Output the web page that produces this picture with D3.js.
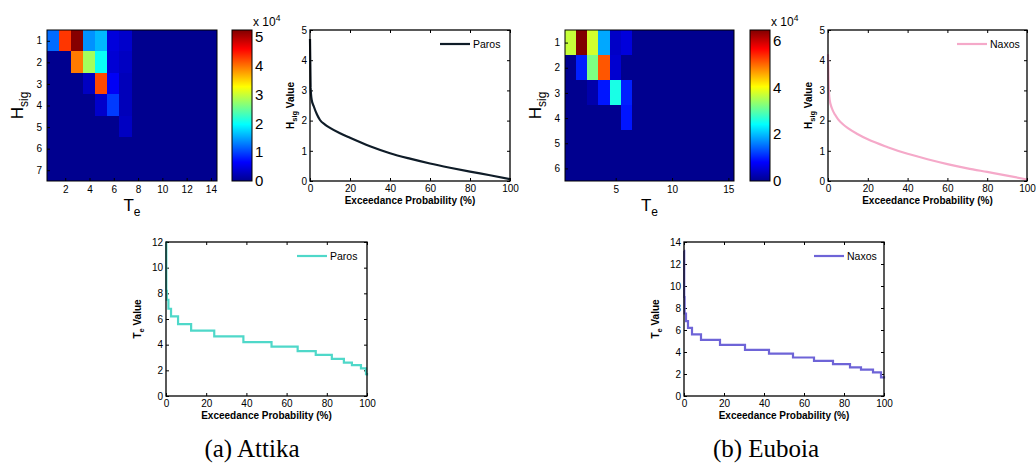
<!DOCTYPE html>
<html lang="en">
<head>
<meta charset="UTF-8">
<title>Wave climate: Attika and Euboia</title>
<script src="https://d3js.org/d3.v7.min.js"></script>
<style>
  body { margin: 0; background: #fff; }
  svg { display: block; font-family: "Liberation Sans", Arial, sans-serif; }
  .tick text { font-size: 10px; fill: #000; }
  .cbar .tick text { font-size: 15px; }
  .domain { display: none; }
  .tick line { stroke: #000; }
  .lbl { font-size: 10px; font-weight: bold; }
  .cell { shape-rendering: crispEdges; }
  .caption { font-family: "Liberation Serif", "DejaVu Serif", serif; font-size: 25px; }
</style>
</head>
<body>
<svg width="1036" height="472"></svg>
<script>
// ---- data (counts in units of 1e4) ----
const attikaCounts = [
  [1.2, 4.3, 5.2, 1.4, 1.6, 0.45, 0.35, 0, 0, 0, 0, 0, 0, 0],
  [0, 0, 3.95, 2.8, 2.0, 0.4, 0.3, 0, 0, 0, 0, 0, 0, 0],
  [0, 0, 0, 0.3, 4.2, 0.6, 0.25, 0, 0, 0, 0, 0, 0, 0],
  [0, 0, 0, 0, 0.35, 0.95, 0.25, 0, 0, 0, 0, 0, 0, 0],
  [0, 0, 0, 0, 0, 0, 0.3, 0, 0, 0, 0, 0, 0, 0],
  [0, 0, 0, 0, 0, 0, 0, 0, 0, 0, 0, 0, 0, 0],
  [0, 0, 0, 0, 0, 0, 0, 0, 0, 0, 0, 0, 0, 0]
];
const euboiaCounts = [
  [3.67, 6.45, 3.75, 1.87, 0.4, 0.55, 0, 0, 0, 0, 0, 0, 0, 0, 0],
  [0, 1.0, 3.2, 5.1, 0.47, 0, 0, 0, 0, 0, 0, 0, 0, 0, 0],
  [0, 0, 0.2, 0.94, 2.58, 1.0, 0, 0, 0, 0, 0, 0, 0, 0, 0],
  [0, 0, 0, 0, 0, 0.94, 0, 0, 0, 0, 0, 0, 0, 0, 0],
  [0, 0, 0, 0, 0, 0, 0, 0, 0, 0, 0, 0, 0, 0, 0],
  [0, 0, 0, 0, 0, 0, 0, 0, 0, 0, 0, 0, 0, 0, 0]
];
const attikaTeTicks = [2, 4, 6, 8, 10, 12, 14];
const euboiaTeTicks = [5, 10, 15];
const attikaHsTicks = [1, 2, 3, 4, 5, 6, 7];
const euboiaHsTicks = [1, 2, 3, 4, 5, 6];
const attikaCbTicks = [0, 1, 2, 3, 4, 5];
const euboiaCbTicks = [0, 2, 4, 6];
const attikaCbMax = 5.23;
const euboiaCbMax = 6.45;

const hsigProb  = [0, 0.3, 0.8, 2, 3.5, 5, 7.5, 10, 15, 20, 30, 40, 50, 60, 70, 80, 90, 100];
const parosHsig = [4.7, 3.1, 2.7, 2.45, 2.2, 2.02, 1.87, 1.76, 1.58, 1.43, 1.15, 0.92, 0.74, 0.58, 0.44, 0.31, 0.19, 0.06];
const naxosHsig = [4.2, 3.2, 2.7, 2.4, 2.2, 2.05, 1.88, 1.75, 1.55, 1.38, 1.12, 0.9, 0.72, 0.56, 0.42, 0.3, 0.18, 0.05];

const parosTeProb = [0, 0.15, 0.4, 1.2, 2.5, 6, 12.5, 24, 38.5, 52.5, 65.5, 74.5, 82.5, 88.5, 92.5, 97, 99.5, 100];
const parosTe     = [12, 8.2, 7.5, 6.8, 6.2, 5.6, 5.1, 4.65, 4.2, 3.85, 3.5, 3.2, 2.9, 2.6, 2.4, 2.15, 1.7, 1.6];
const naxosTeProb = [0, 0.1, 0.3, 1, 2, 4, 8.5, 18, 30.5, 42.5, 54.5, 65, 74.5, 83, 88.5, 94.5, 98.5, 100];
const naxosTe     = [13.2, 9, 7.5, 6.8, 6.2, 5.6, 5.1, 4.65, 4.2, 3.85, 3.5, 3.2, 2.9, 2.6, 2.4, 2.15, 1.7, 1.6];

const probTicks = [0, 20, 40, 60, 80, 100];
const hsigValTicks = [0, 1, 2, 3, 4, 5];
const parosTeTicks = [0, 2, 4, 6, 8, 10, 12];
const naxosTeTicks = [0, 2, 4, 6, 8, 10, 12, 14];

const jetStops = [0, 0.125, 0.375, 0.625, 0.875, 1];
const jetColors = ["#00008f", "#0000ff", "#00ffff", "#ffff00", "#ff0000", "#800000"];

const fmt = d3.format("d");
const svg = d3.select("svg");
const defs = svg.append("defs");

function heatmap(id, box, grid, teTicks, hsTicks, cbMax, cbTicks, cb) {
  const g = svg.append("g");
  const nR = grid.length, nC = grid[0].length;
  const x = d3.scaleLinear().domain([0.5, nC + 0.5]).range([box.x0, box.x1]);
  const y = d3.scaleLinear().domain([0.5, nR + 0.5]).range([box.y0, box.y1]);
  const color = d3.scaleLinear().domain(jetStops.map(t => t * cbMax)).range(jetColors).clamp(true);

  const cells = grid.flatMap((row, i) => row.map((v, j) => ({ r: i + 1, c: j + 1, v })));
  g.selectAll("rect.cell").data(cells).join("rect")
    .attr("class", "cell")
    .attr("x", d => Math.floor(x(d.c - 0.5))).attr("y", d => Math.floor(y(d.r - 0.5)))
    .attr("width", d => Math.ceil(x(d.c + 0.5)) - Math.floor(x(d.c - 0.5)))
    .attr("height", d => Math.ceil(y(d.r + 0.5)) - Math.floor(y(d.r - 0.5)))
    .attr("fill", d => color(d.v));

  g.append("g").attr("transform", `translate(0,${box.y1})`)
    .call(d3.axisBottom(x).tickValues(teTicks).tickFormat(fmt).tickSize(-3).tickPadding(5));
  g.append("g").attr("transform", `translate(${box.x0},0)`)
    .call(d3.axisLeft(y).tickValues(hsTicks).tickFormat(fmt).tickSize(-3).tickPadding(5));
  g.append("rect").attr("x", box.x0).attr("y", box.y0)
    .attr("width", box.x1 - box.x0).attr("height", box.y1 - box.y0)
    .attr("fill", "none").attr("stroke", "#000").attr("stroke-width", 1);

  // axis labels
  const cy = (box.y0 + box.y1) / 2;
  const hl = g.append("text").attr("transform", `translate(${box.x0 - 24},${cy}) rotate(-90)`)
    .attr("text-anchor", "middle").style("font-size", "17px");
  hl.append("tspan").text("H");
  hl.append("tspan").attr("dy", 5).style("font-size", "12px").text("sig");
  const tl = g.append("text").attr("x", (box.x0 + box.x1) / 2).attr("y", box.y1 + 30)
    .attr("text-anchor", "middle").style("font-size", "17px");
  tl.append("tspan").text("T");
  tl.append("tspan").attr("dy", 5).style("font-size", "12px").text("e");

  // colorbar
  const grad = defs.append("linearGradient").attr("id", id)
    .attr("x1", 0).attr("y1", 1).attr("x2", 0).attr("y2", 0);
  grad.selectAll("stop").data(jetStops).join("stop")
    .attr("offset", d => d).attr("stop-color", (d, i) => jetColors[i]);
  const cy2 = d3.scaleLinear().domain([0, cbMax]).range([box.y1, box.y0]);
  g.append("rect").attr("x", cb.x0).attr("y", box.y0)
    .attr("width", cb.x1 - cb.x0).attr("height", box.y1 - box.y0)
    .attr("fill", `url(#${id})`).attr("stroke", "#000").attr("stroke-width", 1);
  g.append("g").attr("class", "cbar").attr("transform", `translate(${cb.x1},0)`)
    .call(d3.axisRight(cy2).tickValues(cbTicks).tickFormat(fmt).tickSize(0).tickPadding(3));
  const ex = g.append("text").attr("x", cb.x1 + 1).attr("y", box.y0 - 4).style("font-size", "12px");
  ex.append("tspan").text("x 10");
  ex.append("tspan").attr("dy", -5).style("font-size", "8.5px").text("4");
}

function curvePlot(box, xs, ys, yMax, yTicks, col, name, stepped, ySub, yLabOff) {
  const g = svg.append("g");
  const x = d3.scaleLinear().domain([0, 100]).range([box.x0, box.x1]);
  const y = d3.scaleLinear().domain([0, yMax]).range([box.y1, box.y0]);

  g.append("g").attr("transform", `translate(0,${box.y1})`)
    .call(d3.axisBottom(x).tickValues(probTicks).tickFormat(fmt).tickSize(-3).tickPadding(4));
  g.append("g").attr("transform", `translate(0,${box.y0})`)
    .call(d3.axisTop(x).tickValues(probTicks).tickSize(-3).tickFormat(""));
  g.append("g").attr("transform", `translate(${box.x0},0)`)
    .call(d3.axisLeft(y).tickValues(yTicks).tickFormat(fmt).tickSize(-3).tickPadding(3));
  g.append("g").attr("transform", `translate(${box.x1},0)`)
    .call(d3.axisRight(y).tickValues(yTicks).tickSize(-3).tickFormat(""));

  const pts = xs.map((p, i) => [p, ys[i]]);
  const line = d3.line().x(d => x(d[0])).y(d => y(d[1]))
    .curve(stepped ? d3.curveStepAfter : d3.curveMonotoneX);
  g.append("path").datum(pts).attr("d", line)
    .attr("fill", "none").attr("stroke", col).attr("stroke-width", 2.2);

  g.append("rect").attr("x", box.x0).attr("y", box.y0)
    .attr("width", box.x1 - box.x0).attr("height", box.y1 - box.y0)
    .attr("fill", "none").attr("stroke", "#000").attr("stroke-width", 1.3);

  // legend
  const ly = box.y0 + 14;
  g.append("line").attr("x1", box.x1 - 70).attr("x2", box.x1 - 40)
    .attr("y1", ly).attr("y2", ly).attr("stroke", col).attr("stroke-width", 2.2);
  g.append("text").attr("x", box.x1 - 37).attr("y", ly).attr("dy", "0.35em")
    .style("font-size", "10.5px").text(name);

  g.append("text").attr("class", "lbl").attr("x", (box.x0 + box.x1) / 2).attr("y", box.y1 + 23)
    .attr("text-anchor", "middle").text("Exceedance Probability (%)");
  const yl = g.append("text").attr("class", "lbl")
    .attr("transform", `translate(${box.x0 - yLabOff},${(box.y0 + box.y1) / 2}) rotate(-90)`)
    .attr("text-anchor", "middle");
  yl.append("tspan").text(ySub[0]);
  yl.append("tspan").attr("dy", 3).style("font-size", "7.5px").text(ySub[1]);
  yl.append("tspan").attr("dy", -3).text(" Value");
}

heatmap("cbA", { x0: 47, x1: 217, y0: 30, y1: 181 }, attikaCounts, attikaTeTicks, attikaHsTicks,
  attikaCbMax, attikaCbTicks, { x0: 232, x1: 252 });
heatmap("cbB", { x0: 565, x1: 734, y0: 30, y1: 181 }, euboiaCounts, euboiaTeTicks, euboiaHsTicks,
  euboiaCbMax, euboiaCbTicks, { x0: 750, x1: 770 });

curvePlot({ x0: 310, x1: 510, y0: 30, y1: 181 }, hsigProb, parosHsig, 5, hsigValTicks, "#0f1c28", "Paros", false, ["H", "sig"], 16);
curvePlot({ x0: 828, x1: 1027, y0: 30, y1: 181 }, hsigProb, naxosHsig, 5, hsigValTicks, "#f5a9c9", "Naxos", false, ["H", "sig"], 16);
curvePlot({ x0: 166, x1: 367, y0: 242, y1: 396 }, parosTeProb, parosTe, 12, parosTeTicks, "#4fd8c9", "Paros", true, ["T", "e"], 25);
curvePlot({ x0: 684, x1: 884, y0: 242, y1: 396 }, naxosTeProb, naxosTe, 14, naxosTeTicks, "#6e64d7", "Naxos", true, ["T", "e"], 25);

svg.append("text").attr("class", "caption").attr("x", 252).attr("y", 457).attr("text-anchor", "middle").text("(a) Attika");
svg.append("text").attr("class", "caption").attr("x", 766).attr("y", 457).attr("text-anchor", "middle").text("(b) Euboia");
</script>
</body>
</html>
